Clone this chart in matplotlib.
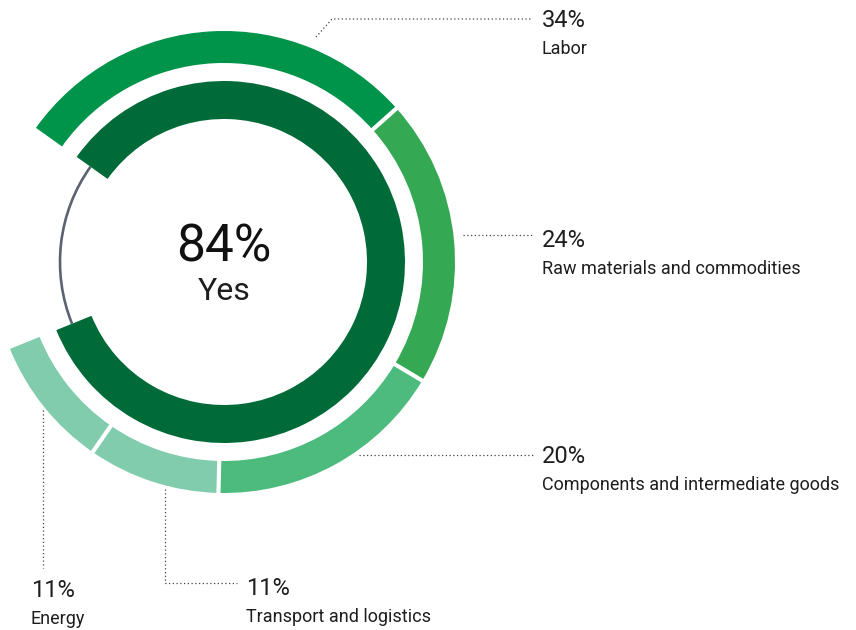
import matplotlib
matplotlib.use("Agg")
import numpy as np
import matplotlib.pyplot as plt
from matplotlib.patches import Arc

# Data
yes_share = 84
categories = ["Labor", "Raw materials and commodities",
              "Components and intermediate goods",
              "Transport and logistics", "Energy"]
shares = [34, 24, 20, 11, 11]
colors = ["#00934a", "#35a853", "#4cbb7d", "#82ccae", "#82ccae"]

W, H = 856, 630
fig = plt.figure(figsize=(W / 100, H / 100), dpi=100)
ax = fig.add_axes([0, 0, 1, 1])


def fy(y):
    """Convert a top-down pixel row to data y."""
    return H - y


cx, cy = 224, fy(262)
start = 144.5
span_frac = yes_share / 100

# Outer ring: breakdown of the "yes" answers, spread across the same arc
outer_vals = [s / 100 * span_frac for s in shares]
r_out, w_out = 231, 32
ax.pie(outer_vals, colors=colors, startangle=start, counterclock=False,
       normalize=False, radius=r_out, center=(cx, cy), frame=True,
       wedgeprops=dict(width=w_out, edgecolor="none"))

# White separators between the outer segments
cum = np.cumsum(outer_vals)[:-1]
for c in cum:
    a = np.deg2rad(start - c * 360)
    rr = np.array([r_out - w_out - 3, r_out + 3])
    ax.plot(cx + rr * np.cos(a), cy + rr * np.sin(a), color="white",
            lw=3.0, solid_capstyle="butt", zorder=5)

# Thin grey arc for the remaining share
theta_end = start - span_frac * 360
ax.add_patch(Arc((cx, cy), 2 * 164, 2 * 164, theta1=start,
                 theta2=theta_end + 360, color="#5b6270", lw=1.9, zorder=0))

# Inner ring: overall "yes" share
ax.pie([span_frac], colors=["#006b38"], startangle=start, counterclock=False,
       normalize=False, radius=181, center=(cx, cy), frame=True,
       wedgeprops=dict(width=38, edgecolor="none"))

ax.set_xlim(0, W)
ax.set_ylim(0, H)
ax.set_aspect("equal")
ax.axis("off")

font = "Roboto"
txt = "#1e1e1e"

# Centre label
ax.text(224, fy(262), f"{yes_share}%", fontsize=37, family=font,
        weight="normal", color="#111111", ha="center", va="baseline")
ax.text(224, fy(300), "Yes", fontsize=23, family=font, weight="normal",
        color=txt, ha="center", va="baseline")

# Leader lines (pixel paths) and label anchors
leaders = [
    [(316, 37), (332, 19), (533, 19)],
    [(463, 235), (533, 235)],
    [(359, 455), (533, 455)],
    [(165, 489), (165, 583), (237, 583)],
    [(43, 410), (43, 568)],
]
anchors = [(542, 27), (542, 247), (542, 463), (246, 595), (31, 597)]

for path, (tx, ty), share, name in zip(leaders, anchors, shares, categories):
    xs = [p[0] for p in path]
    ys = [fy(p[1]) for p in path]
    ax.plot(xs, ys, color="#444444", lw=0.9, linestyle=(0, (1, 2)))
    ax.text(tx, fy(ty), f"{share}%", fontsize=17, family=font,
            weight="normal", color=txt, ha="left", va="baseline")
    ax.text(tx, fy(ty + 27), name, fontsize=13, family=font,
            color=txt, ha="left", va="baseline")

fig.savefig("out.png", dpi=100, facecolor="white")
